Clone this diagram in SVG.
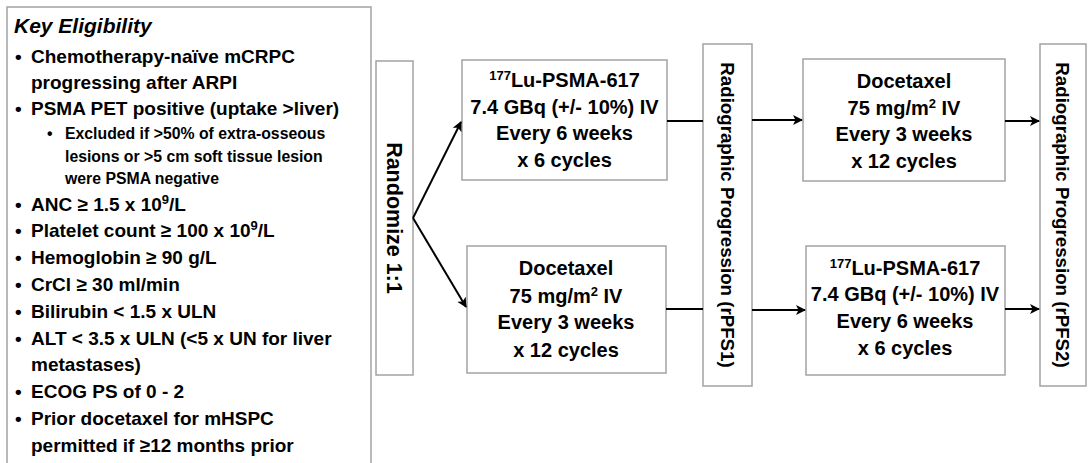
<svg xmlns="http://www.w3.org/2000/svg" width="1089" height="463" viewBox="0 0 1089 463">
<style>
.box{fill:#fff;stroke:#a3a3a3;stroke-width:1.5}
text{font-family:"Liberation Sans",Arial,sans-serif;font-weight:bold;fill:#000}
.b{font-size:19px}
.s{font-size:15.8px}
.t{font-size:20px;text-anchor:middle}
.v{text-anchor:middle}
.ln{stroke:#000;stroke-width:2;fill:none}
</style>
<defs>
<marker id="ah" markerWidth="12" markerHeight="12" refX="9" refY="5" orient="auto" markerUnits="userSpaceOnUse">
<path d="M0,0 L10,5 L0,10 L2.5,5 z" fill="#000"/>
</marker>
</defs>
<rect width="1089" height="463" fill="#fff"/>
<g id="eligibility">
<rect class="box" x="7" y="7" width="364" height="470"/>
<text x="14" y="33" font-size="21" font-style="italic">Key Eligibility</text>
<text class="b" x="15" y="63">•</text><text class="b" x="31" y="63">Chemotherapy-naïve mCRPC</text>
<text class="b" x="31" y="89">progressing after ARPI</text>
<text class="b" x="15" y="115">•</text><text class="b" x="31" y="115">PSMA PET positive (uptake &gt;liver)</text>
<text class="s" x="47" y="139">•</text><text class="s" x="65" y="139">Excluded if &gt;50% of extra-osseous</text>
<text class="s" x="65" y="162">lesions or &gt;5 cm soft tissue lesion</text>
<text class="s" x="65" y="184">were PSMA negative</text>
<text class="b" x="15" y="211">•</text><text class="b" x="31" y="211">ANC ≥ 1.5 x 10<tspan dy="-7" font-size="13">9</tspan><tspan dy="7">/L</tspan></text>
<text class="b" x="15" y="237">•</text><text class="b" x="31" y="237">Platelet count ≥ 100 x 10<tspan dy="-7" font-size="13">9</tspan><tspan dy="7">/L</tspan></text>
<text class="b" x="15" y="264">•</text><text class="b" x="31" y="264">Hemoglobin ≥ 90 g/L</text>
<text class="b" x="15" y="291">•</text><text class="b" x="31" y="291">CrCl ≥ 30 ml/min</text>
<text class="b" x="15" y="318">•</text><text class="b" x="31" y="318">Bilirubin &lt; 1.5 x ULN</text>
<text class="b" x="15" y="345">•</text><text class="b" x="31" y="345">ALT &lt; 3.5 x ULN (&lt;5 x UN for liver</text>
<text class="b" x="31" y="371">metastases)</text>
<text class="b" x="15" y="398">•</text><text class="b" x="31" y="398">ECOG PS of 0 - 2</text>
<text class="b" x="15" y="425">•</text><text class="b" x="31" y="425">Prior docetaxel for mHSPC</text>
<text class="b" x="31" y="452">permitted if ≥12 months prior</text>
</g>
<g id="randomize">
<rect class="box" x="376" y="61" width="37" height="314"/>
<text class="v" font-size="21.5" transform="translate(394.5,218) rotate(90)" x="0" y="7.7">Randomize 1:1</text>
</g>
<g id="lu-first">
<rect class="box" x="462" y="60" width="205" height="120"/>
<text class="t" x="564.5" y="87"><tspan font-size="13" dy="-7">177</tspan><tspan dy="7">Lu-PSMA-617</tspan></text>
<text class="t" x="564.5" y="114">7.4 GBq (+/- 10%) IV</text>
<text class="t" x="564.5" y="140">Every 6 weeks</text>
<text class="t" x="564.5" y="167">x 6 cycles</text>
</g>
<g id="doc-first">
<rect class="box" x="467" y="246" width="199" height="127"/>
<text class="t" x="566" y="275">Docetaxel</text>
<text class="t" x="566" y="303">75 mg/m<tspan font-size="13" dy="-7">2</tspan><tspan dy="7"> IV</tspan></text>
<text class="t" x="566" y="329">Every 3 weeks</text>
<text class="t" x="566" y="357">x 12 cycles</text>
</g>
<g id="rpfs1">
<rect class="box" x="703" y="44" width="49" height="342"/>
<text class="v" font-size="18.7" transform="translate(727.5,215) rotate(90)" x="0" y="6.7">Radiographic Progression (rPFS1)</text>
</g>
<g id="doc-second">
<rect class="box" x="803" y="59" width="202" height="122"/>
<text class="t" x="904" y="88">Docetaxel</text>
<text class="t" x="904" y="115">75 mg/m<tspan font-size="13" dy="-7">2</tspan><tspan dy="7"> IV</tspan></text>
<text class="t" x="904" y="141">Every 3 weeks</text>
<text class="t" x="904" y="168">x 12 cycles</text>
</g>
<g id="lu-second">
<rect class="box" x="806" y="246" width="199" height="129"/>
<text class="t" x="905" y="275"><tspan font-size="13" dy="-7">177</tspan><tspan dy="7">Lu-PSMA-617</tspan></text>
<text class="t" x="905" y="301">7.4 GBq (+/- 10%) IV</text>
<text class="t" x="905" y="328">Every 6 weeks</text>
<text class="t" x="905" y="355">x 6 cycles</text>
</g>
<g id="rpfs2">
<rect class="box" x="1040" y="44" width="46" height="342"/>
<text class="v" font-size="18.7" transform="translate(1063,215) rotate(90)" x="0" y="6.7">Radiographic Progression (rPFS2)</text>
</g>
<g id="connectors">
<path class="ln" d="M413,218 L461,122" marker-end="url(#ah)"/>
<path class="ln" d="M413,218 L466,307" marker-end="url(#ah)"/>
<path class="ln" d="M667,121 L703,121"/>
<path class="ln" d="M666,309 L703,309"/>
<path class="ln" d="M752,120 L802,120" marker-end="url(#ah)"/>
<path class="ln" d="M752,310 L805,310" marker-end="url(#ah)"/>
<path class="ln" d="M1005,121 L1039,121" marker-end="url(#ah)"/>
<path class="ln" d="M1005,309 L1039,309" marker-end="url(#ah)"/>
</g>
</svg>
